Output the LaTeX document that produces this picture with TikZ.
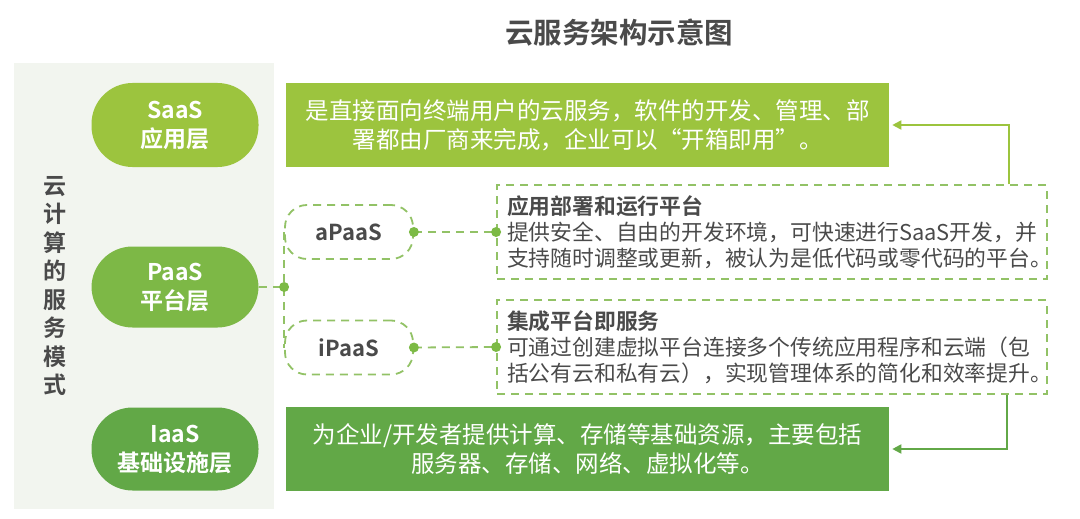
\documentclass[tikz,border=0pt]{standalone}
\usepackage{fontspec}
\setmainfont{Noto Sans CJK SC}[BoldFont={Noto Sans CJK SC Bold}]
\usetikzlibrary{arrows.meta, positioning, calc}

\definecolor{saasgreen}{HTML}{9CC43E}
\definecolor{paasgreen}{HTML}{7DB846}
\definecolor{iaasgreen}{HTML}{62A847}
\definecolor{dashgreen}{HTML}{92C266}
\definecolor{dotgreen}{HTML}{7CBA45}
\definecolor{panelgray}{HTML}{F2F5EF}
\definecolor{textgray}{HTML}{4A4A4A}

\begin{document}
\begin{tikzpicture}[x=1pt, y=-1pt, semithick, font=\fontsize{21.8}{26}\selectfont]
	\tikzstyle{pill}=[rounded corners=41pt, minimum width=167pt, text=white, align=center, font=\fontsize{23}{29}\selectfont\bfseries]
	\tikzstyle{descbox}=[minimum width=603pt, minimum height=84pt, text=white, align=center, font=\fontsize{23.5}{29}\selectfont]
	\tikzstyle{subbox}=[draw=dashgreen, dashed, dash pattern=on 8pt off 6pt, line width=1.8pt, rounded corners=22pt, minimum width=128pt, minimum height=54pt, text=textgray, font=\fontsize{22}{26}\selectfont\bfseries]
	\tikzstyle{infobox}=[draw=dashgreen, dash pattern=on 8pt off 6pt, line width=1.8pt, minimum width=550pt, minimum height=88pt, text width=530pt, align=left, inner sep=10pt, text=textgray]
	\tikzstyle{link}=[draw=dashgreen, dash pattern=on 8pt off 6pt, line width=1.8pt]
	\tikzstyle{uplink}=[-{Triangle[length=9pt,width=9pt]}, line width=1.8pt, shorten >=3pt]

	\useasboundingbox (0,0) rectangle (1080,519);

	\node[text=textgray, font=\fontsize{28.5}{32}\selectfont\bfseries] (title) at (619,33) {云服务架构示意图};
	\node[fill=panelgray, minimum width=260pt, minimum height=445pt] (panel) at (144,286) {};
	\node[text=textgray, align=center, font=\fontsize{23}{28.5}\selectfont\bfseries] (mode) at (55,286) {云\\计\\算\\的\\服\\务\\模\\式};

	% three layers
	\node[pill, fill=saasgreen, minimum height=84pt] (saas) at (175,125) {SaaS\\应用层};
	\node[pill, fill=paasgreen, minimum height=81pt] (paas) at (175,287) {PaaS\\平台层};
	\node[pill, fill=iaasgreen, minimum height=83pt] (iaas) at (175,449) {IaaS\\基础设施层};

	\node[descbox, fill=saasgreen] (saasdesc) at (587.5,125) {是直接面向终端用户的云服务，软件的开发、管理、部\\署都由厂商来完成，企业可以“开箱即用”。};
	\node[descbox, fill=iaasgreen] (iaasdesc) at (587.5,449) {为企业/开发者提供计算、存储等基础资源，主要包括\\服务器、存储、网络、虚拟化等。};

	% PaaS branches
	\node[subbox] (apaas) at (349,232) {aPaaS};
	\node[subbox] (ipaas) at (349,347.5) {iPaaS};
	\node[infobox] (apaasdesc) at (772,232) {\textbf{应用部署和运行平台}\\提供安全、自由的开发环境，可快速进行SaaS开发，并\\支持随时调整或更新，被认为是低代码或零代码的平台。};
	\node[infobox] (ipaasdesc) at (772,347) {\textbf{集成平台即服务}\\可通过创建虚拟平台连接多个传统应用程序和云端（包\\括公有云和私有云），实现管理体系的简化和效率提升。};

	\coordinate (fork) at (paas.east -| apaas.west);
	\path[link] (apaas.west) -- (ipaas.west);
	\path[link] (paas.east) -- (fork);
	\path[link] (apaas.east) -- (apaasdesc.west);
	\path[link] (ipaas.east) -- (ipaasdesc.west);
	\foreach \p in {fork, apaas.east, apaasdesc.west, ipaas.east, ipaasdesc.west}
		\fill[dotgreen] (\p) circle (5pt);

	\draw[uplink, saasgreen] ($(apaasdesc.north east)+(-39,0)$) |- (saasdesc.east);
	\draw[uplink, iaasgreen] ($(ipaasdesc.south east)+(-41,0)$) |- (iaasdesc.east);
\end{tikzpicture}
\end{document}
